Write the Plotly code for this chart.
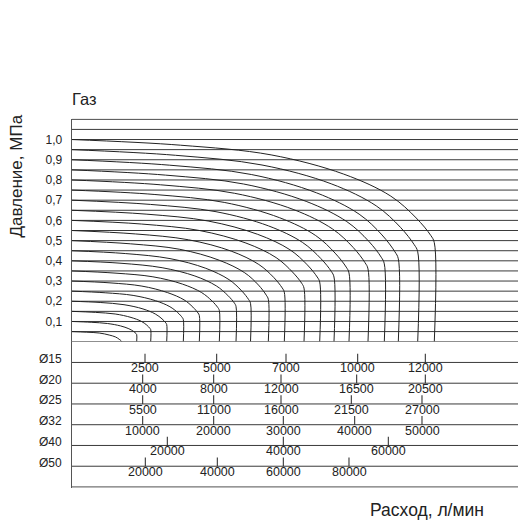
import plotly.graph_objects as go

# ---------------- data ----------------
# upper panel: pressure curves (x in nomogram units from left edge, p in MPa)
start_pressure = [1.0, 0.95, 0.9, 0.85, 0.8, 0.75, 0.7, 0.65, 0.6, 0.55,
                  0.5, 0.45, 0.4, 0.35, 0.3, 0.25, 0.2, 0.15, 0.1, 0.05]

curve_x = [
    [0, 108.8, 199.4, 272.0, 319.1, 344.5, 359.0, 362.6],
    [0, 103.8, 190.3, 259.5, 304.5, 328.7, 342.5, 346.0],
    [0, 98.0, 179.6, 245.0, 287.4, 310.3, 323.3, 326.6],
    [0, 93.8, 171.9, 234.5, 275.1, 297.0, 309.5, 312.6],
    [0, 88.9, 163.0, 222.2, 260.7, 281.5, 293.3, 296.3],
    [0, 83.2, 152.5, 208.0, 244.0, 263.4, 274.5, 277.3],
    [0, 78.7, 144.3, 196.7, 230.8, 249.2, 259.7, 262.3],
    [0, 74.4, 136.4, 186.0, 218.2, 235.6, 245.5, 248.0],
    [0, 69.7, 127.8, 174.2, 204.4, 220.7, 230.0, 232.3],
    [0, 63.8, 116.9, 159.5, 187.1, 202.0, 210.5, 212.6],
    [0, 59.0, 108.1, 147.5, 173.0, 186.8, 194.6, 196.6],
    [0, 53.6, 98.3, 134.1, 157.3, 169.9, 177.0, 178.8],
    [0, 49.3, 90.4, 123.2, 144.6, 156.1, 162.7, 164.3],
    [0, 44.3, 81.2, 110.7, 129.9, 140.2, 146.1, 147.6],
    [0, 38.3, 70.2, 95.7, 112.3, 121.2, 126.3, 127.6],
    [0, 33.5, 61.4, 83.7, 98.2, 106.0, 110.5, 111.6],
    [0, 28.5, 52.3, 71.3, 83.6, 90.3, 94.1, 95.0],
    [0, 23.7, 43.5, 59.3, 69.5, 75.1, 78.2, 79.0],
    [0, 19.5, 35.8, 48.8, 57.2, 61.8, 64.4, 65.0],
    [0, 15.0, 27.5, 37.5, 44.0, 47.5, 49.5, 50.0],
]
curve_p = [
    [1.0, 0.972, 0.924, 0.829, 0.720, 0.612, 0.526, 0.49],
    [0.95, 0.922, 0.874, 0.781, 0.672, 0.566, 0.480, 0.445],
    [0.9, 0.873, 0.827, 0.736, 0.631, 0.528, 0.444, 0.41],
    [0.85, 0.824, 0.780, 0.694, 0.594, 0.497, 0.418, 0.385],
    [0.8, 0.776, 0.734, 0.653, 0.558, 0.466, 0.391, 0.36],
    [0.75, 0.728, 0.689, 0.613, 0.525, 0.438, 0.369, 0.34],
    [0.7, 0.679, 0.643, 0.573, 0.491, 0.411, 0.347, 0.32],
    [0.65, 0.631, 0.597, 0.531, 0.455, 0.380, 0.320, 0.295],
    [0.6, 0.582, 0.550, 0.488, 0.416, 0.345, 0.289, 0.265],
    [0.55, 0.533, 0.504, 0.448, 0.382, 0.318, 0.266, 0.245],
    [0.5, 0.484, 0.457, 0.403, 0.341, 0.280, 0.230, 0.21],
    [0.45, 0.436, 0.411, 0.363, 0.307, 0.252, 0.208, 0.19],
    [0.4, 0.388, 0.366, 0.325, 0.276, 0.229, 0.191, 0.175],
    [0.35, 0.339, 0.321, 0.285, 0.243, 0.202, 0.169, 0.155],
    [0.3, 0.291, 0.275, 0.243, 0.207, 0.171, 0.142, 0.13],
    [0.25, 0.242, 0.229, 0.203, 0.173, 0.144, 0.120, 0.11],
    [0.2, 0.194, 0.183, 0.162, 0.137, 0.113, 0.093, 0.085],
    [0.15, 0.145, 0.137, 0.120, 0.101, 0.082, 0.066, 0.06],
    [0.1, 0.096, 0.090, 0.078, 0.064, 0.051, 0.040, 0.035],
    [0.05, 0.047, 0.043, 0.033, 0.023, 0.012, 0.004, 0.0],
]

grid_pressure = [0.0, 0.05, 0.1, 0.15, 0.2, 0.25, 0.3, 0.35, 0.4, 0.45, 0.5,
                 0.55, 0.6, 0.65, 0.7, 0.75, 0.8, 0.85, 0.9, 0.95, 1.0, 1.05, 1.1]
ytick_vals = [0.1, 0.2, 0.3, 0.4, 0.5, 0.6, 0.7, 0.8, 0.9, 1.0]
ytick_text = ["0,1", "0,2", "0,3", "0,4", "0,5", "0,6", "0,7", "0,8", "0,9", "1,0"]

# lower panel: flow scales per pipe diameter
row_names = ["Ø15", "Ø20", "Ø25", "Ø32", "Ø40", "Ø50"]
row_level = [6, 5, 4, 3, 2, 1]
scale_labels = [
    ["2500", "5000", "7000", "10000", "12000"],
    ["4000", "8000", "12000", "16500", "20500"],
    ["5500", "11000", "16000", "21500", "27000"],
    ["10000", "20000", "30000", "40000", "50000"],
    ["20000", "40000", "60000"],
    ["20000", "40000", "60000", "80000"],
]
scale_pos = [
    [73.3, 145.0, 214.3, 286.0, 353.6],
    [71.0, 142.0, 209.3, 285.0, 353.6],
    [71.0, 142.0, 209.3, 279.6, 350.3],
    [71.0, 142.0, 211.6, 283.0, 350.3],
    [95.6, 211.6, 316.6],
    [73.6, 145.6, 211.6, 277.3],
]

x_max = 446.3
FONT = "Liberation Sans, Arial, sans-serif"
INK = "#222222"
GRID = "#3a3a3a"

fig = go.Figure()

# horizontal grid lines of the upper panel
gx, gy = [], []
for p in grid_pressure:
    gx += [0, x_max, None]
    gy += [p, p, None]
fig.add_trace(go.Scatter(x=gx, y=gy, mode="lines", line=dict(color=GRID, width=1),
                         hoverinfo="skip", showlegend=False, xaxis="x", yaxis="y"))

# pressure curves
for xs, ps in zip(curve_x, curve_p):
    xx = list(xs)
    pp = list(ps)
    if pp[-1] != 0:
        xx.append(xs[-1])
        pp.append(0.0)
    fig.add_trace(go.Scatter(x=xx, y=pp, mode="lines",
                             line=dict(color=INK, width=1, shape="spline", smoothing=1),
                             hoverinfo="skip", showlegend=False, xaxis="x", yaxis="y"))

# lower panel row lines (plus bottom frame)
lx, ly = [], []
for lv in row_level + [0]:
    lx += [0, x_max, None]
    ly += [lv, lv, None]
fig.add_trace(go.Scatter(x=lx, y=ly, mode="lines", line=dict(color=GRID, width=1),
                         hoverinfo="skip", showlegend=False, xaxis="x", yaxis="y2"))

# tick marks of the flow scales
tx, ty = [], []
for lv, poss in zip(row_level, scale_pos):
    for xp in poss:
        tx += [xp, xp, None]
        ty += [lv, lv + 0.42, None]
fig.add_trace(go.Scatter(x=tx, y=ty, mode="lines", line=dict(color=INK, width=1),
                         hoverinfo="skip", showlegend=False, xaxis="x", yaxis="y2"))

annotations = []
for lv, labs, poss in zip(row_level, scale_labels, scale_pos):
    for lab, xp in zip(labs, poss):
        annotations.append(dict(x=xp, y=lv, xref="x", yref="y2", text=lab,
                                showarrow=False, xanchor="center", yanchor="middle",
                                yshift=-6, font=dict(family=FONT, size=12.5, color=INK)))
for name, lv in zip(row_names, row_level):
    annotations.append(dict(x=63.5 / 518, y=lv, xref="paper", yref="y2", text=name,
                            showarrow=False, xanchor="right", yanchor="middle",
                            yshift=3.5, font=dict(family=FONT, size=12, color=INK)))

annotations.append(dict(x=70 / 518, y=1 - 99 / 521, xref="paper", yref="paper",
                        text="Газ", showarrow=False, xanchor="left", yanchor="middle",
                        font=dict(family=FONT, size=16.5, color=INK)))
annotations.append(dict(x=16 / 518, y=1 - 176.5 / 521, xref="paper", yref="paper",
                        text="Давление, МПа", showarrow=False, textangle=-90,
                        xanchor="center", yanchor="middle",
                        font=dict(family=FONT, size=17, color=INK)))
annotations.append(dict(x=426.7 / 518, y=1 - 510 / 521, xref="paper", yref="paper",
                        text="Расход, л/мин", showarrow=False,
                        xanchor="center", yanchor="middle",
                        font=dict(family=FONT, size=17.5, color=INK)))

W, H = 518, 521
left_px = 71.7
up_top, up_bot = 118.5, 342.5      # px, includes tiny pad
lo_top, lo_bot = 341.7, 487.8

fig.update_layout(
    width=W, height=H,
    margin=dict(l=0, r=0, t=0, b=0),
    paper_bgcolor="white", plot_bgcolor="white",
    showlegend=False,
    annotations=annotations,
    xaxis=dict(domain=[left_px / W, 1], range=[0, x_max], visible=False, fixedrange=True),
    yaxis=dict(domain=[1 - up_bot / H, 1 - up_top / H], range=[-0.004, 1.104],
               anchor="x", tickvals=ytick_vals, ticktext=ytick_text,
               ticks="outside", ticklen=6, tickcolor="rgba(0,0,0,0)",
               tickfont=dict(family=FONT, size=12, color=INK),
               showgrid=False, zeroline=False,
               showline=True, linecolor="#555555", linewidth=1),
    yaxis2=dict(domain=[1 - lo_bot / H, 1 - lo_top / H], range=[-0.04, 7.0],
                anchor="x", showticklabels=False, ticks="", showgrid=False,
                zeroline=False, showline=True, linecolor="#555555", linewidth=1),
)

fig.write_html(
    "out.html",
    config={"displayModeBar": False},
    post_script="document.body.style.margin='0px';document.body.style.overflow='hidden';",
)
